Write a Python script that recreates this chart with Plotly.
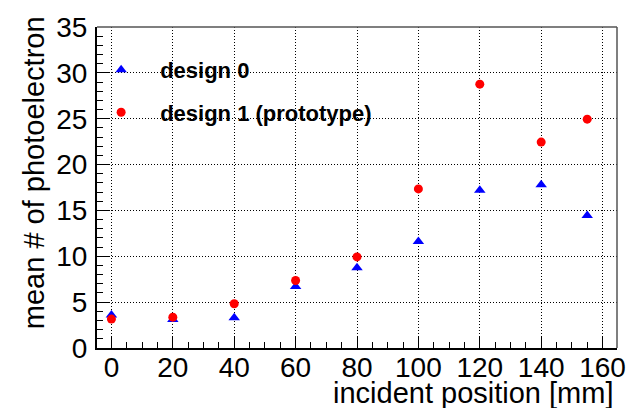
import plotly.graph_objects as go

positions = [0, 20, 40, 60, 80, 100, 120, 140, 155]
design0 = [3.6, 3.1, 3.3, 6.7, 8.75, 11.6, 17.2, 17.8, 14.45]
design1 = [3.15, 3.36, 4.82, 7.36, 9.93, 17.35, 28.77, 22.45, 24.95]
x_range = [-4.7, 164.7]
y_range = [0, 35]
x_ticks = [0, 20, 40, 60, 80, 100, 120, 140, 160]
y_ticks = [0, 5, 10, 15, 20, 25, 30, 35]

FONT = "Liberation Sans, Arial, Helvetica, sans-serif"

fig = go.Figure()
fig.add_trace(go.Scatter(
    x=positions, y=design0, mode="markers", name="design 0",
    legendgroup="a",
    marker=dict(symbol="triangle-up", color="#0000ff", size=10),
))
fig.add_trace(go.Scatter(
    x=positions, y=design1, mode="markers", name="design 1 (prototype)",
    legendgroup="b",
    marker=dict(symbol="circle", color="#ff0000", size=9),
))

fig.update_layout(
    width=638, height=408,
    margin=dict(l=97, r=16, t=21, b=60),
    paper_bgcolor="white", plot_bgcolor="white",
    font=dict(family=FONT, color="black"),
    showlegend=True,
    legend=dict(
        x=-0.0286, y=0.932, xanchor="left", yanchor="top",
        bgcolor="rgba(0,0,0,0)", borderwidth=0,
        font=dict(family=FONT, size=22, color="black", weight="bold"),
        itemwidth=68, tracegroupgap=11,
    ),
    xaxis=dict(
        range=x_range, tickmode="array", tickvals=x_ticks,
        ticks="inside", ticklen=12, tickwidth=1, tickcolor="black",
        showline=True, linecolor="black", linewidth=2,
        showgrid=True, gridcolor="black", gridwidth=1, griddash="1px,2px",
        zeroline=False,
        tickfont=dict(size=28, family=FONT, color="black"),
        ticklabelstandoff=-7,
        minor=dict(dtick=5, ticks="inside", ticklen=6, tickcolor="black", showgrid=False),
    ),
    yaxis=dict(
        range=y_range, tickmode="array", tickvals=y_ticks,
        ticks="inside", ticklen=12, tickwidth=1, tickcolor="black",
        showline=True, linecolor="black", linewidth=2,
        showgrid=True, gridcolor="black", gridwidth=1, griddash="1px,2px",
        zeroline=False,
        tickfont=dict(size=28, family=FONT, color="black"),
        ticklabelstandoff=2,
        minor=dict(dtick=1, ticks="inside", ticklen=6, tickcolor="black", showgrid=False),
    ),
    shapes=[
        dict(type="line", xref="paper", yref="paper", x0=0, x1=1, y0=1, y1=1,
             line=dict(color="#555555", width=1.5)),
        dict(type="line", xref="paper", yref="paper", x0=1, x1=1, y0=0, y1=1,
             line=dict(color="#555555", width=1.5)),
    ],
    annotations=[
        dict(text="mean # of photoelectron", xref="paper", yref="paper",
             x=-0.122, y=1.04, xanchor="center", yanchor="top", textangle=-90,
             showarrow=False, font=dict(size=29, family=FONT, color="black")),
        dict(text="incident position [mm]", xref="paper", yref="paper",
             x=0.997, y=-0.085, xanchor="right", yanchor="top",
             showarrow=False, font=dict(size=29, family=FONT, color="black")),
    ],
)

fig.write_html("out.html")
